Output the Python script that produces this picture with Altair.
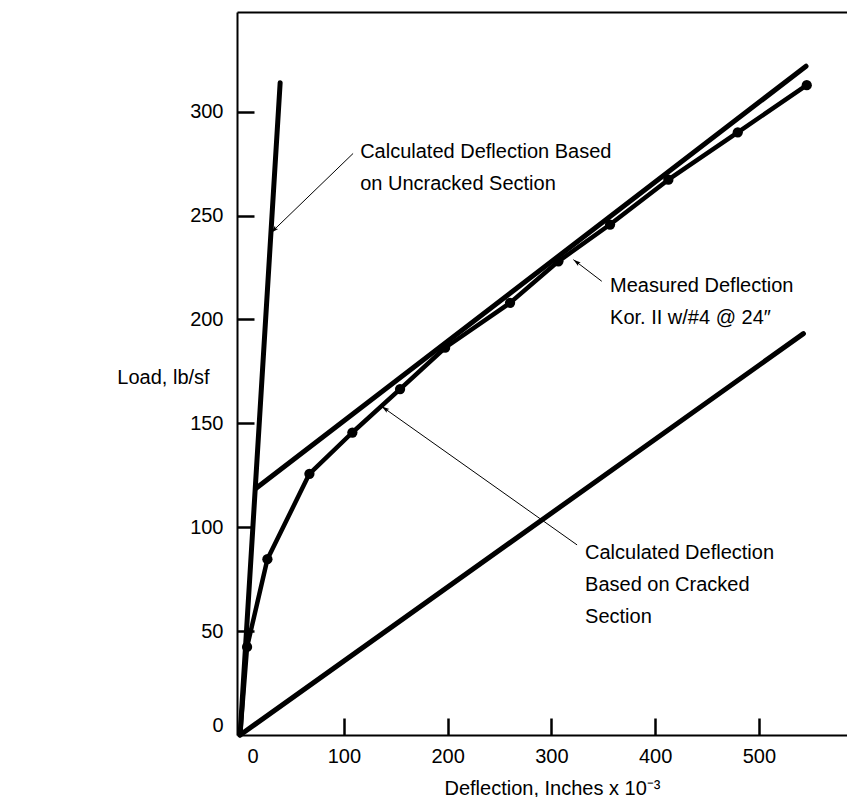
import math
import altair as alt
import pandas as pd

FONT = "Liberation Sans"

# ---- data (x: deflection, in x 10^-3 ; y: load, lb/sf) ----
meas_x = [0, 6.7, 26.3, 66.8, 108.2, 154.2, 197.6, 260.2, 306.8, 356.6, 412.8, 479.7, 546.2]
meas_y = [0, 42.4, 84.6, 125.7, 145.6, 166.5, 186.4, 208.0, 228.0, 245.7, 267.3, 290.1, 312.8]

uncracked_x = [0, 38.6]
uncracked_y = [0, 314.0]
upper_x = [15.4, 545.5]
upper_y = [118.8, 321.9]
cracked_x = [0, 543.0]
cracked_y = [0, 193.2]

x_tick_values = [0, 100, 200, 300, 400, 500]
y_tick_values = [0, 50, 100, 150, 200, 250, 300]

ann_lines = [
    ["Calculated Deflection Based", "on Uncracked Section"],
    ["Measured Deflection", "Kor. II w/#4 @ 24\u2033"],
    ["Calculated Deflection", "Based on Cracked", "Section"],
]
ann_x = [115.7, 356.6, 332.5]
ann_y = [277.5, 213.1, 84.8]
arrow_x0 = [108.9, 348.6, 324.8]
arrow_y0 = [279.9, 218.4, 91.5]
arrow_x1 = [29.9, 321.3, 136.6]
arrow_y1 = [241.8, 228.8, 158.1]

# ---- layout ----
W, H = 610, 723
X_DOM = [-3, 585]
Y_DOM = [0, 348]
xs = alt.Scale(domain=X_DOM, nice=False, zero=False)
ys = alt.Scale(domain=Y_DOM, nice=False, zero=False)
sx = W / (X_DOM[1] - X_DOM[0])
sy = H / (Y_DOM[1] - Y_DOM[0])

theory = pd.DataFrame({
    "x": uncracked_x + upper_x + cracked_x,
    "y": uncracked_y + upper_y + cracked_y,
    "s": ["uncracked"] * 2 + ["upper"] * 2 + ["cracked"] * 2,
})
meas = pd.DataFrame({"x": meas_x, "y": meas_y})
dots = meas.iloc[1:]

angles = []
for a, b, c, d in zip(arrow_x0, arrow_y0, arrow_x1, arrow_y1):
    dx = (c - a) * sx
    dy = -(d - b) * sy
    angles.append(math.degrees(math.atan2(dx, -dy)) % 360)

arrows = pd.DataFrame({"x0": arrow_x0, "y0": arrow_y0, "x1": arrow_x1, "y1": arrow_y1, "ang": angles})
texts = pd.DataFrame({"x": ann_x, "y": ann_y, "t": ann_lines})

ax_bottom = alt.Axis(
    orient="bottom", values=x_tick_values, grid=False,
    domain=True, domainColor="black", domainWidth=2,
    ticks=False, tickSize=0,
    labelPadding=11, labelFlush=5, labelFlushOffset=-7,
    labelFont=FONT, labelFontSize=20, labelColor="black",
    title="Deflection, Inches x 10\u207b\u00b3", titleFont=FONT, titleFontSize=20,
    titleFontWeight="normal", titleColor="black",
    titleX=315, titleY=53, titleAlign="center", titleBaseline="middle",
)
ax_left = alt.Axis(
    orient="left", values=y_tick_values, grid=False,
    domain=True, domainColor="black", domainWidth=2,
    ticks=False, tickSize=0,
    labelPadding=14, labelFlush=1, labelFlushOffset=0,
    labelFont=FONT, labelFontSize=20, labelColor="black",
    title="Load, lb/sf", titleFont=FONT, titleFontSize=20,
    titleFontWeight="normal", titleColor="black", titleAngle=0,
    titleX=-74, titleY=365, titleAlign="center", titleBaseline="middle",
)
ax_xticks = alt.Axis(
    orient="top", offset=-H, values=x_tick_values[1:], grid=False,
    domain=False, labels=False, ticks=True, tickSize=17, tickWidth=2.5,
    tickColor="black", title=None,
)
ax_yticks = alt.Axis(
    orient="right", offset=-W, values=y_tick_values[1:], grid=False,
    domain=False, labels=False, ticks=True, tickSize=17, tickWidth=2.5,
    tickColor="black", title=None,
)
ax_top = alt.Axis(
    orient="top", grid=False, domain=True, domainColor="black", domainWidth=2,
    ticks=False, labels=False, title=None,
)

theory_layer = alt.Chart(theory).mark_line(color="black", strokeWidth=5, strokeCap="round").encode(
    x=alt.X("x:Q", scale=xs, axis=ax_bottom),
    y=alt.Y("y:Q", scale=ys, axis=ax_left),
    detail="s:N",
)
meas_layer = alt.Chart(meas).mark_line(color="black", strokeWidth=4.5, strokeJoin="round").encode(
    x=alt.X("x:Q", scale=xs, axis=ax_xticks),
    y=alt.Y("y:Q", scale=ys, axis=ax_yticks),
)
dot_layer = alt.Chart(dots).mark_point(filled=True, color="black", opacity=1, size=105, shape="circle").encode(
    x=alt.X("x:Q", scale=xs, axis=ax_top),
    y=alt.Y("y:Q", scale=ys, axis=None),
)
arrow_layer = alt.Chart(arrows).mark_rule(color="black", strokeWidth=1).encode(
    x=alt.X("x0:Q", scale=xs, axis=None),
    y=alt.Y("y0:Q", scale=ys, axis=None),
    x2="x1:Q",
    y2="y1:Q",
)
head_layer = alt.Chart(arrows).mark_point(
    shape="M0,0L-0.3,1L0,0.8L0.3,1Z", filled=True, color="black", opacity=1, size=230,
).encode(
    x=alt.X("x1:Q", scale=xs, axis=None),
    y=alt.Y("y1:Q", scale=ys, axis=None),
    angle=alt.Angle("ang:Q", scale=None),
)
text_layer = alt.Chart(texts).mark_text(
    align="left", baseline="alphabetic", font=FONT, fontSize=20, lineHeight=32, color="black",
).encode(
    x=alt.X("x:Q", scale=xs, axis=None),
    y=alt.Y("y:Q", scale=ys, axis=None),
    text="t",
)

chart = alt.layer(
    theory_layer, meas_layer, dot_layer, arrow_layer, head_layer, text_layer
).resolve_axis(x="independent", y="independent").properties(
    width=W, height=H,
    autosize=alt.AutoSizeParams(type="none"),
    padding={"left": 237, "top": 12, "right": 0, "bottom": 62},
    background="white",
).configure_view(stroke=None)

chart.save("out.html", embed_options={"renderer": "svg", "actions": False})
